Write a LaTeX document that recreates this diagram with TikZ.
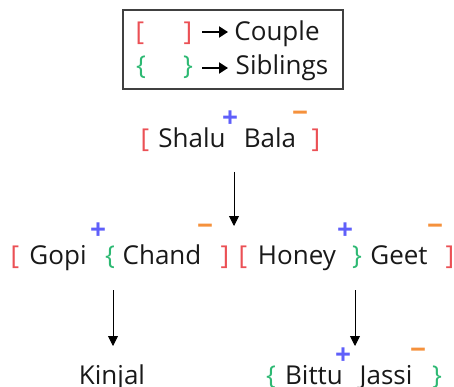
\documentclass[tikz,border=0pt]{standalone}
\usepackage{fontspec}
\setmainfont{Open Sans}
\usetikzlibrary{positioning, arrows.meta}
\definecolor{couplecol}{RGB}{235,80,85}
\definecolor{sibcol}{RGB}{45,185,115}
\definecolor{pluscol}{RGB}{95,95,250}
\definecolor{minuscol}{RGB}{245,145,60}

\begin{document}
\begin{tikzpicture}[x=1pt, y=-1pt,
    person/.style={font=\fontsize{26}{30}\selectfont, text=black!90, inner sep=0pt, anchor=base},
    cpl/.style={font=\fontsize{26}{30}\selectfont, text=couplecol, inner sep=0pt, anchor=base},
    sib/.style={font=\fontsize{26}{30}\selectfont, text=sibcol, inner sep=0pt, anchor=base},
    plus/.style={font=\fontsize{28}{28}\selectfont\bfseries, text=pluscol, inner sep=0pt},
    minus/.style={font=\fontsize{28}{28}\selectfont\bfseries, text=minuscol, inner sep=0pt},
    arr/.style={-{Triangle[length=10pt, width=10pt]}, line width=0.9pt, black}]

    \useasboundingbox (0,0) rectangle (454,387);

    % === LEGENDE ===
    \draw[black!75, line width=1.3pt] (123,10) rectangle (343,89);
    \node[cpl] (lopen) at (140,41) {[};
    \node[cpl] (lclose) at (188,41) {]};
    \node[person] (lcouple) at (277,41) {Couple};
    \node[sib] (lsopen) at (141,75) {\{};
    \node[sib] (lsclose) at (188,75) {\}};
    \node[person] (lsib) at (282,75) {Siblings};
    \coordinate (la1) at (202,32);
    \coordinate (la1e) at (228,32);
    \coordinate (la2) at (202,68);
    \coordinate (la2e) at (228,68);
    \draw[arr, line width=2pt, -{Triangle[length=9pt, width=11pt]}] (la1) -- (la1e);
    \draw[arr, line width=2pt, -{Triangle[length=9pt, width=11pt]}] (la2) -- (la2e);

    % === GRANDS-PARENTS ===
    \node[cpl] (c1open) at (145,148) {[};
    \node[person] (shalu) at (192,148) {Shalu};
    \node[plus] (p1) at (230,119) {+};
    \node[person] (bala) at (270,148) {Bala};
    \node[minus] (m1) at (300,117) {−};
    \node[cpl] (c1close) at (316,148) {]};

    % Fleche vers enfants
    \coordinate (sb) at (234,172);
    \coordinate (kids) at (234,226);
    \draw[arr] (sb) -- (kids);

    % === PARENTS ===
    \node[cpl] (c2open) at (15,264) {[};
    \node[person] (gopi) at (58,264) {Gopi};
    \node[plus] (p2) at (98,231) {+};
    \node[sib] (s1open) at (110,264) {\{};
    \node[person] (chand) at (162,264) {Chand};
    \node[minus] (m2) at (205,230) {−};
    \node[cpl] (c2close) at (225,264) {]};

    \node[cpl] (c3open) at (243,264) {[};
    \node[person] (honey) at (297,264) {Honey};
    \node[plus] (p3) at (345,231) {+};
    \node[sib] (s1close) at (357,264) {\}};
    \node[person] (geet) at (399,264) {Geet};
    \node[minus] (m3) at (435,230) {−};
    \node[cpl] (c3close) at (450,264) {]};

    % Fleches vers petits-enfants
    \coordinate (gc) at (113,290);
    \coordinate (gce) at (113,346);
    \coordinate (hg) at (355,290);
    \coordinate (hge) at (355,346);

    % === PETITS-ENFANTS ===
    \node[person] (kinjal) at (112,384) {Kinjal};
    \node[sib] (s2open) at (271,384) {\{};
    \node[person] (bittu) at (314,384) {Bittu};
    \node[plus] (p4) at (343,356) {+};
    \node[person] (jassi) at (386,384) {Jassi};
    \node[minus] (m4) at (418,354) {−};
    \node[sib] (s2close) at (437,384) {\}};

    \draw[arr] (gc) -- (gce);
    \draw[arr] (hg) -- (hge);

\end{tikzpicture}
\end{document}
